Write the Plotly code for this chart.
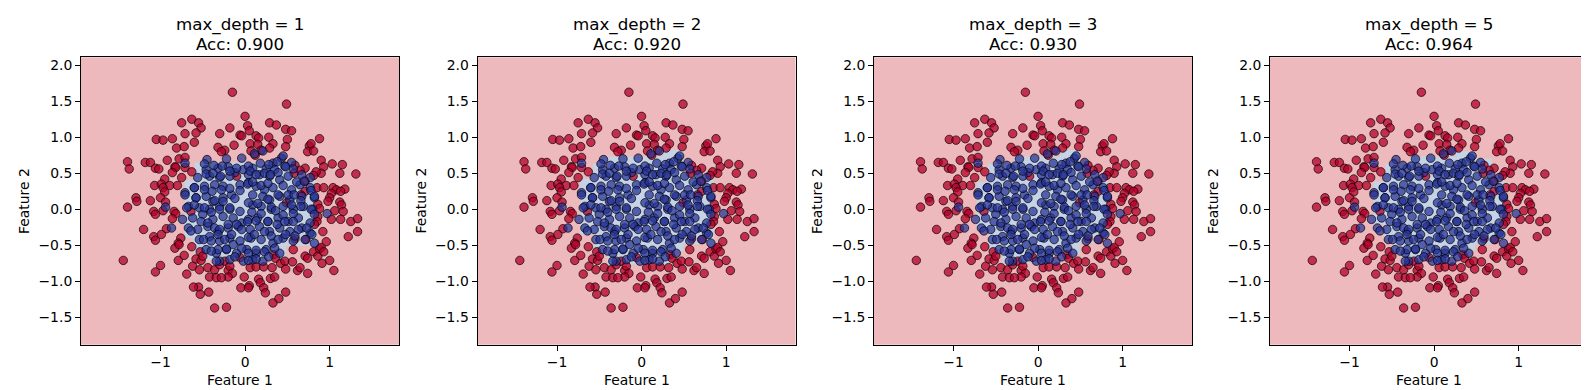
import plotly.graph_objects as go

# ---------------- data ----------------
red_pts = [
    (-0.15,1.625),(0.49,1.46),(0.0,1.29),(-0.63,1.25),(-0.55,1.20),(-0.75,1.20),(-0.52,1.13),(-0.18,1.13),
    (0.03,1.16),(0.29,1.20),(0.37,1.17),(0.48,1.11),(0.55,1.09),(0.05,1.09),(-0.58,1.06),(-0.71,1.05),
    (-0.30,1.05),(-0.06,1.03),(-0.04,1.02),(0.13,1.02),(0.16,0.99),(0.28,1.00),(0.50,0.97),(0.88,0.98),
    (-1.05,0.97),(-0.97,0.96),(-0.86,0.98),(-0.60,0.93),(0.06,0.91),(0.15,0.90),(0.33,0.91),(0.76,0.88),
    (0.78,0.91),(-0.81,0.85),(-0.72,0.87),(-0.32,0.86),(-0.24,0.82),(-0.13,0.89),(0.29,0.85),(0.48,0.87),
    (0.74,0.80),(0.81,0.81),(0.07,0.81),(0.19,0.82),(0.12,0.75),(-0.28,0.80),
    (-1.39,0.66),(-1.37,0.56),(-1.18,0.65),(-1.12,0.65),(-1.06,0.57),(-1.02,0.56),(-0.92,0.68),(-0.78,0.70),
    (-0.71,0.72),(-0.83,0.59),(-0.82,0.58),(-0.71,0.58),(-0.86,0.51),(-0.75,0.44),(-0.63,0.52),(-0.95,0.42),
    (-1.07,0.33),(-0.99,0.35),(-0.89,0.33),(-0.80,0.33),(-0.97,0.30),(-0.95,0.24),(-1.29,0.16),(-1.28,0.11),
    (-1.12,0.12),(-1.00,0.16),(-0.94,0.10),(-1.39,0.03),(-1.08,-0.03),(-1.06,-0.07),(-0.97,-0.02),(-0.84,-0.03),
    (-0.82,-0.06),(-0.86,-0.13),(-1.20,-0.28),(-0.93,-0.27),(-1.08,-0.38),(-1.06,-0.43),(-0.99,-0.35),(-0.76,-0.40),
    (-0.79,-0.47),(-0.83,-0.54),(-0.78,-0.49),(-1.44,-0.71),(-0.79,-0.71),(-0.72,-0.64),(-1.00,-0.78),(-1.06,-0.87),
    (-0.62,-0.79),(-0.63,-0.52),(-0.58,-0.69),(-0.53,-0.59),(-0.54,-0.84),(-0.52,-0.71),(-0.50,-0.65),(-0.69,-0.90),
    (-0.44,-0.81),(-0.42,-0.94),(-0.55,-1.08),(-0.61,-1.08),(-0.53,-1.18),(-0.43,-1.15),(-0.36,-0.84),(-0.34,-0.95),
    (-0.30,-0.77),(-0.24,-0.72),(-0.20,-0.85),(-0.18,-0.79),(-0.15,-0.89),(-0.20,-0.94),(-0.28,-0.95),(-0.36,-1.37),
    (-0.22,-1.36),(-0.06,-0.67),(-0.05,-1.09),(-0.01,-0.94),(0.05,-1.06),(0.04,-1.09),(0.06,-0.81),(0.13,-0.80),
    (0.22,-0.80),(0.16,-0.97),(0.18,-1.02),(0.22,-1.09),(0.24,-1.16),(0.30,-0.96),(0.35,-0.94),(0.33,-1.30),
    (0.40,-1.24),(0.48,-1.15),(0.32,-0.81),(0.34,-0.63),(0.36,-0.68),(0.42,-0.75),(0.47,-0.72),(0.48,-0.83),
    (0.57,-0.56),(0.56,-0.73),(0.62,-0.85),(0.65,-0.81),(0.71,-0.65),(0.74,-0.68),(0.74,-0.89),(0.81,-0.59),
    (0.86,-0.65),(0.88,-0.55),(0.90,-0.53),(0.96,-0.45),(0.93,-0.59),(0.91,-0.75),(1.00,-0.71),(1.05,-0.85),
    (0.92,-0.31),
    (1.31,0.49),(1.15,0.62),(1.03,0.63),(0.90,0.68),(0.93,0.59),(1.12,0.50),(0.90,0.50),(0.84,0.52),
    (0.81,0.47),(0.71,0.39),(0.71,0.57),(0.59,0.61),(0.65,0.54),(0.58,0.50),(0.85,0.30),(0.93,0.30),
    (1.04,0.30),(1.08,0.27),(1.18,0.28),(1.13,0.25),(1.02,0.22),(1.00,0.16),(0.98,0.11),(1.12,0.10),
    (1.14,0.06),(1.06,-0.02),(1.16,-0.03),(0.86,0.07),(0.88,0.01),(0.71,0.25),(0.66,0.20),(0.49,0.09),
    (1.13,-0.14),(1.25,-0.17),(1.33,-0.13),(1.33,-0.31),(1.22,-0.38),(1.02,-0.14),(0.86,-0.10),(0.85,-0.17),
    (0.82,-0.21),(0.72,-0.42),(0.59,-0.41),(-0.10,0.46),(-0.64,-0.03),
]
blue_pts = [
    (-0.04,0.71),(0.43,0.71),(0.33,0.64),(0.55,0.65),
    (-0.46,0.55),(-0.32,0.57),(-0.20,0.59),(-0.12,0.51),(-0.02,0.55),(0.09,0.57),(0.25,0.56),(0.35,0.55),(0.47,0.60),(0.57,0.56),
    (-0.56,0.44),(-0.42,0.46),(-0.30,0.44),(-0.18,0.46),(0.04,0.48),(0.17,0.48),(0.29,0.46),(0.41,0.41),(0.51,0.46),(0.67,0.48),(0.77,0.44),
    (-0.60,0.30),(-0.48,0.32),(-0.36,0.34),(-0.26,0.32),(-0.06,0.34),(0.04,0.37),(0.13,0.32),(0.23,0.27),(0.33,0.30),(0.45,0.33),
    (0.55,0.27),(0.65,0.34),(0.77,0.30),(-0.71,0.23),
    (-0.58,0.16),(-0.46,0.18),(-0.38,0.11),(-0.26,0.16),(-0.16,0.20),(0.09,0.20),(0.21,0.18),(0.29,0.13),(0.41,0.18),(0.53,0.13),(0.67,0.18),(0.82,0.16),
    (-0.67,0.04),(-0.54,0.02),(-0.42,0.00),(-0.30,0.04),(-0.18,0.00),(0.09,0.06),(0.19,0.04),(0.31,0.00),(0.45,0.04),(0.57,0.00),(0.69,0.04),(0.80,0.00),
    (-0.62,-0.12),(-0.50,-0.07),(-0.38,-0.14),(-0.26,-0.10),(-0.14,-0.12),(-0.04,-0.19),(0.04,-0.14),(0.15,-0.12),(0.27,-0.17),(0.39,-0.12),
    (0.51,-0.17),(0.63,-0.12),(0.77,-0.19),
    (-0.67,-0.26),(-0.56,-0.28),(-0.44,-0.24),(-0.32,-0.31),(-0.20,-0.26),(-0.08,-0.24),(0.06,-0.28),(0.17,-0.24),(0.29,-0.31),(0.41,-0.26),
    (0.53,-0.31),(0.67,-0.26),(0.77,-0.33),
    (-0.54,-0.42),(-0.42,-0.38),(-0.30,-0.44),(-0.18,-0.40),(-0.06,-0.44),(0.07,-0.40),(0.19,-0.42),(0.33,-0.47),(0.45,-0.40),(0.57,-0.44),(0.71,-0.42),
    (-0.46,-0.56),(-0.34,-0.61),(-0.22,-0.56),(-0.10,-0.61),(0.02,-0.56),(0.13,-0.61),(0.25,-0.56),(0.41,-0.61),
    (-0.30,-0.72),(-0.18,-0.70),(-0.02,-0.72),(0.09,-0.70),(0.21,-0.72),
    (-0.71,0.64),(-0.45,0.69),(-0.22,0.70),(0.11,0.77),(0.21,0.81),(0.45,0.74),(0.38,0.66),(0.28,0.62),(0.18,0.64),
    (0.04,0.60),(-0.10,0.57),(-0.27,0.60),(-0.37,0.61),(-0.48,0.63),(-0.46,0.49),(-0.38,0.50),(-0.29,0.46),(-0.18,0.53),
    (0.06,0.53),(0.13,0.48),(0.23,0.50),(0.30,0.48),(0.39,0.51),(0.48,0.59),(0.61,0.38),(0.70,0.39),
    (-0.60,0.30),(-0.48,0.27),(-0.39,0.25),(-0.28,0.27),(-0.18,0.29),(-0.06,0.26),(0.03,0.35),(0.09,0.38),(0.19,0.33),(0.27,0.36),
    (0.39,0.20),(0.51,0.20),(0.58,0.20),(0.66,0.12),(0.78,0.26),(0.82,0.18),(-0.71,0.20),(-0.58,0.16),(-0.36,0.12),(-0.26,0.11),
    (-0.12,0.15),(0.04,0.09),(0.15,0.08),(0.27,0.14),(0.31,0.03),(0.36,-0.02),(0.55,0.06),(0.66,0.04),(0.78,-0.00),(0.82,-0.07),
    (-0.69,0.02),(-0.60,0.06),(-0.48,0.02),(-0.40,-0.04),(-0.30,0.00),(-0.18,0.02),(-0.06,-0.03),(0.08,-0.04),(0.19,-0.06),
    (0.45,-0.08),(0.57,-0.06),(-0.74,-0.14),(-0.64,-0.30),(-0.52,-0.17),(-0.44,-0.19),(-0.36,-0.26),(-0.30,-0.28),(-0.20,-0.21),
    (-0.10,-0.21),(0.03,-0.17),(0.13,-0.16),(0.27,-0.17),(0.38,-0.21),(0.47,-0.17),(0.57,-0.17),(0.63,-0.28),(0.73,-0.26),
    (0.79,-0.35),(0.82,-0.47),(-0.49,-0.42),(-0.40,-0.44),(-0.32,-0.35),(-0.24,-0.42),(-0.16,-0.35),(-0.04,-0.28),(0.04,-0.39),
    (0.11,-0.35),(0.23,-0.31),(0.31,-0.37),(0.39,-0.42),(0.48,-0.35),(0.59,-0.37),(-0.32,-0.56),(-0.22,-0.55),(-0.14,-0.49),
    (-0.04,-0.54),(0.04,-0.61),(0.13,-0.57),(0.23,-0.59),(0.35,-0.54),(-0.40,-0.58),(-0.34,-0.72),(-0.12,-0.66),(0.04,-0.71),
    (0.13,-0.69),(0.28,-0.66),(-0.87,-0.26),(-0.94,0.03),(0.97,-0.06),
]
red_x = [p[0] for p in red_pts]
red_y = [p[1] for p in red_pts]
blue_x = [p[0] for p in blue_pts]
blue_y = [p[1] for p in blue_pts]

depth_labels = ["max_depth = 1", "max_depth = 2", "max_depth = 3", "max_depth = 5"]
acc_labels = ["Acc: 0.900", "Acc: 0.920", "Acc: 0.930", "Acc: 0.964"]

# decision region (class 1) outlines for each model
region_x = [
    [-0.72,-0.72,-0.60,-0.60,0.66,0.66,0.85,0.85,0.49,0.49,-0.50,-0.50,-0.62,-0.62],
    [-0.73,-0.73,-0.58,-0.58,-0.47,-0.47,0.25,0.25,0.50,0.50,0.86,0.86,0.50,0.50,0.33,0.33,-0.41,-0.41,-0.57,-0.57],
    [-0.73,-0.73,-0.60,-0.60,-0.29,-0.29,0.26,0.26,0.50,0.50,0.70,0.70,0.84,0.84,0.70,0.70,0.50,0.50,0.18,0.18,-0.43,-0.43,-0.59,-0.59],
    [-0.72,-0.72,-0.58,-0.58,-0.29,-0.29,0.25,0.25,0.49,0.49,0.69,0.69,0.85,0.85,0.69,0.69,0.49,0.49,0.25,0.25,-0.39,-0.39,-0.49,-0.49,-0.60,-0.60],
]
region_y = [
    [-0.40,0.41,0.41,0.66,0.66,0.40,0.40,-0.51,-0.51,-0.71,-0.71,-0.61,-0.61,-0.40],
    [-0.35,0.43,0.43,0.64,0.64,0.735,0.735,0.83,0.83,0.46,0.46,-0.49,-0.49,-0.59,-0.59,-0.77,-0.77,-0.54,-0.54,-0.35],
    [-0.28,0.39,0.39,0.64,0.64,0.735,0.735,0.83,0.83,0.60,0.60,0.39,0.39,-0.35,-0.35,-0.47,-0.47,-0.63,-0.63,-0.75,-0.75,-0.58,-0.58,-0.28],
    [-0.21,0.39,0.39,0.64,0.64,0.735,0.735,0.81,0.81,0.71,0.71,0.39,0.39,-0.42,-0.42,-0.49,-0.49,-0.58,-0.58,-0.70,-0.70,-0.58,-0.58,-0.42,-0.42,-0.21],
]

x_range = [-1.94, 1.82]
y_range = [-1.88, 2.11]
x_ticks = [-1, 0, 1]
y_ticks = [-1.5, -1.0, -0.5, 0.0, 0.5, 1.0, 1.5, 2.0]

# ---------------- styling / layout ----------------
W, H = 1589, 390
FONT = "DejaVu Sans"
RED_BG = "#EDB9BC"
BLUE_BG = "#C6D2E8"
axes_left = [73, 469.5, 866, 1262]
axes_w = 318
ax_top, ax_bot = 49.3, 336.7

fig = go.Figure()
annotations = []
for i in range(4):
    xa = "x" if i == 0 else f"x{i+1}"
    ya = "y" if i == 0 else f"y{i+1}"
    fig.add_trace(go.Scatter(x=region_x[i], y=region_y[i], fill="toself", fillcolor=BLUE_BG,
                             mode="lines", line=dict(width=0.8, color="rgba(240,190,160,0.8)"),
                             hoverinfo="skip", showlegend=False, xaxis=xa, yaxis=ya))
    fig.add_trace(go.Scatter(x=red_x, y=red_y, mode="markers", showlegend=False, xaxis=xa, yaxis=ya,
                             marker=dict(size=8.5, color="rgba(180,0,40,0.75)",
                                         line=dict(width=0.9, color="rgba(0,0,0,0.75)"))))
    fig.add_trace(go.Scatter(x=blue_x, y=blue_y, mode="markers", showlegend=False, xaxis=xa, yaxis=ya,
                             marker=dict(size=8.5, color="rgba(38,50,150,0.72)",
                                         line=dict(width=0.9, color="rgba(0,0,0,0.75)"))))
    x0 = axes_left[i] / W
    x1 = (axes_left[i] + axes_w) / W
    common = dict(showgrid=False, zeroline=False, showline=True, mirror=True, linecolor="black",
                  linewidth=1, ticks="outside", ticklen=5, tickwidth=1, tickcolor="black",
                  tickfont=dict(family=FONT, size=13.9, color="black"))
    fig.update_layout(**{
        ("xaxis" if i == 0 else f"xaxis{i+1}"): dict(domain=[x0, x1], range=x_range, tickvals=x_ticks,
                                                      anchor=ya, **common),
        ("yaxis" if i == 0 else f"yaxis{i+1}"): dict(domain=[(H - ax_bot) / H, (H - ax_top) / H],
                                                      range=y_range, tickvals=y_ticks, tickformat=".1f",
                                                      anchor=xa, **common),
    })
    cx = (axes_left[i] + axes_w / 2) / W
    annotations.append(dict(text=depth_labels[i], x=cx, y=1 - 17 / H, xref="paper", yref="paper",
                            showarrow=False, xanchor="center", yanchor="middle",
                            font=dict(family=FONT, size=16.7, color="black")))
    annotations.append(dict(text=acc_labels[i], x=cx, y=1 - 35.5 / H, xref="paper", yref="paper",
                            showarrow=False, xanchor="center", yanchor="middle",
                            font=dict(family=FONT, size=16.7, color="black")))
    annotations.append(dict(text="Feature 1", x=cx, y=1 - 372 / H, xref="paper", yref="paper",
                            showarrow=False, xanchor="center", yanchor="middle",
                            font=dict(family=FONT, size=13.9, color="black")))
    annotations.append(dict(text="Feature 2", x=(axes_left[i] - 57) / W, y=1 - (ax_top + ax_bot) / 2 / H,
                            xref="paper", yref="paper", textangle=-90,
                            showarrow=False, xanchor="center", yanchor="middle",
                            font=dict(family=FONT, size=13.9, color="black")))

fig.update_layout(width=W, height=H, autosize=False, margin=dict(l=0, r=0, t=0, b=0),
                  paper_bgcolor="white", plot_bgcolor=RED_BG, annotations=annotations,
                  font=dict(family=FONT, color="black"))
fig.write_html("out.html")
